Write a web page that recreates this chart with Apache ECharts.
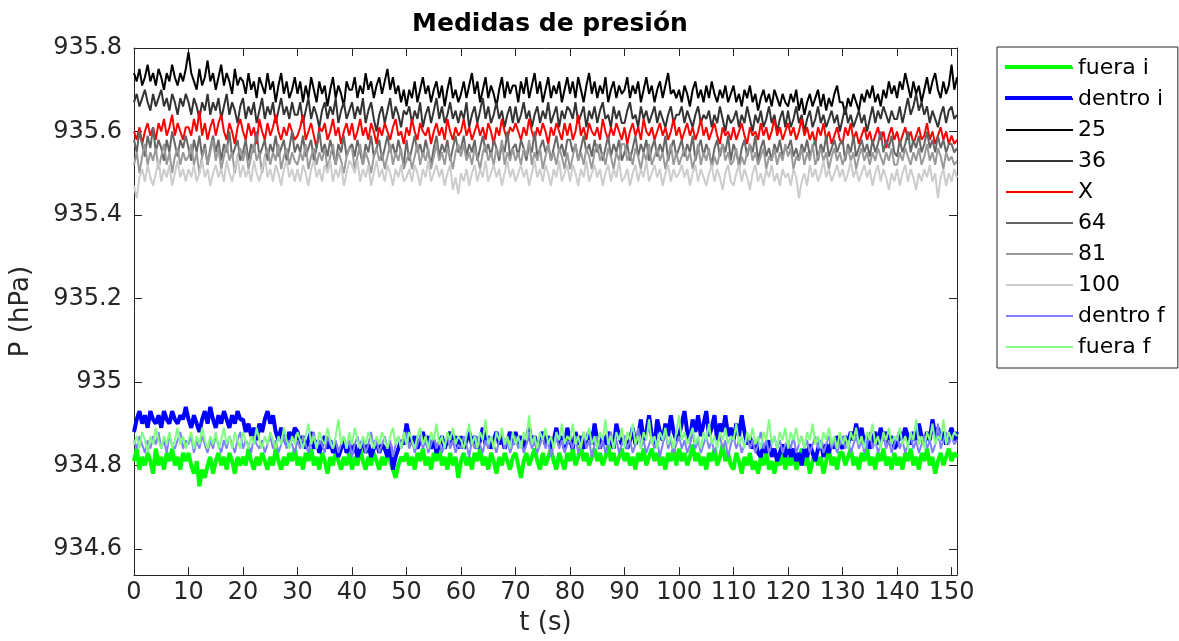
<!DOCTYPE html>
<html>
<head>
<meta charset="utf-8">
<script src="https://cdn.jsdelivr.net/npm/echarts@6/dist/echarts.min.js"></script>
<style>
  html, body { margin: 0; padding: 0; background: #fff; }
  #chart { width: 1179px; height: 641px; }
</style>
</head>
<body>
<div id="chart"></div>
<script>
// Pressure readings (hPa), sampled every half second
const dt = 0.5;

const fueraI = [
934.81,934.84,934.79,934.82,934.80,934.83,934.81,934.78,934.84,934.80,934.82,934.79,934.83,934.81,934.84,934.80,934.82,934.79,934.83,934.81,
934.83,934.80,934.78,934.81,934.75,934.79,934.77,934.80,934.82,934.78,934.81,934.83,934.80,934.82,934.79,934.83,934.81,934.78,934.82,934.80,
934.82,934.80,934.84,934.81,934.79,934.82,934.80,934.83,934.81,934.79,934.82,934.80,934.84,934.81,934.79,934.82,934.80,934.83,934.81,934.84,
934.80,934.82,934.79,934.83,934.81,934.84,934.80,934.82,934.79,934.83,934.81,934.78,934.82,934.80,934.83,934.81,934.79,934.82,934.80,934.83,
934.79,934.82,934.80,934.84,934.81,934.79,934.82,934.80,934.83,934.81,934.79,934.82,934.80,934.83,934.81,934.79,934.77,934.80,934.82,934.81,
934.83,934.80,934.82,934.79,934.83,934.81,934.84,934.80,934.82,934.79,934.83,934.81,934.84,934.80,934.82,934.79,934.83,934.80,934.82,934.77,
934.81,934.83,934.80,934.82,934.79,934.83,934.81,934.84,934.80,934.82,934.79,934.83,934.81,934.78,934.82,934.80,934.83,934.81,934.79,934.82,
934.83,934.80,934.77,934.81,934.83,934.80,934.82,934.84,934.81,934.79,934.83,934.80,934.82,934.84,934.81,934.79,934.83,934.81,934.79,934.83,
934.81,934.84,934.80,934.82,934.85,934.81,934.83,934.80,934.82,934.84,934.81,934.83,934.80,934.82,934.85,934.81,934.83,934.80,934.82,934.84,
934.81,934.83,934.80,934.82,934.79,934.83,934.81,934.84,934.80,934.82,934.84,934.81,934.83,934.80,934.82,934.79,934.83,934.81,934.84,934.80,
934.84,934.81,934.83,934.80,934.82,934.85,934.81,934.83,934.80,934.82,934.79,934.83,934.81,934.84,934.80,934.82,934.85,934.81,934.83,934.80,
934.79,934.83,934.81,934.78,934.82,934.80,934.83,934.79,934.81,934.78,934.82,934.80,934.83,934.79,934.81,934.78,934.82,934.80,934.83,934.79,
934.82,934.80,934.83,934.79,934.81,934.84,934.80,934.82,934.78,934.81,934.83,934.80,934.82,934.78,934.81,934.84,934.80,934.82,934.79,934.83,
934.83,934.80,934.82,934.84,934.80,934.82,934.79,934.83,934.81,934.84,934.80,934.82,934.79,934.83,934.81,934.84,934.80,934.82,934.79,934.83,
934.80,934.82,934.79,934.83,934.81,934.84,934.80,934.82,934.79,934.83,934.81,934.84,934.80,934.82,934.78,934.81,934.83,934.80,934.82,934.84,
934.81,934.83,934.82];

const dentroI = [
934.88,934.91,934.93,934.90,934.92,934.89,934.93,934.91,934.90,934.92,934.89,934.93,934.91,934.90,934.93,934.91,934.90,934.92,934.91,934.94,
934.91,934.89,934.92,934.90,934.88,934.91,934.93,934.90,934.94,934.91,934.89,934.92,934.90,934.93,934.91,934.89,934.92,934.90,934.93,934.91,
934.91,934.88,934.90,934.87,934.89,934.86,934.90,934.88,934.91,934.93,934.90,934.92,934.88,934.86,934.89,934.87,934.85,934.88,934.86,934.89,
934.88,934.85,934.87,934.84,934.86,934.88,934.84,934.86,934.83,934.85,934.87,934.84,934.86,934.83,934.85,934.82,934.84,934.86,934.83,934.85,
934.83,934.85,934.82,934.84,934.86,934.83,934.85,934.82,934.84,934.86,934.83,934.85,934.84,934.82,934.85,934.79,934.82,934.84,934.86,934.85,
934.90,934.87,934.85,934.87,934.84,934.86,934.88,934.85,934.87,934.84,934.86,934.83,934.85,934.87,934.84,934.86,934.88,934.85,934.87,934.84,
934.87,934.84,934.86,934.88,934.85,934.87,934.84,934.86,934.89,934.85,934.87,934.84,934.86,934.88,934.85,934.87,934.84,934.86,934.88,934.85,
934.88,934.85,934.87,934.84,934.86,934.89,934.85,934.87,934.84,934.86,934.88,934.85,934.87,934.84,934.86,934.89,934.85,934.87,934.84,934.89,
934.86,934.84,934.88,934.85,934.87,934.84,934.86,934.88,934.85,934.90,934.86,934.84,934.87,934.85,934.88,934.86,934.84,934.90,934.87,934.85,
934.87,934.84,934.86,934.89,934.85,934.87,934.91,934.86,934.88,934.92,934.87,934.85,934.91,934.88,934.86,934.90,934.87,934.92,934.88,934.86,
934.87,934.90,934.93,934.88,934.86,934.91,934.88,934.92,934.87,934.90,934.93,934.87,934.89,934.92,934.86,934.90,934.88,934.92,934.87,934.89,
934.86,934.90,934.87,934.92,934.88,934.85,934.87,934.84,934.86,934.83,934.82,934.85,934.83,934.86,934.82,934.84,934.81,934.83,934.85,934.82,
934.85,934.82,934.84,934.81,934.83,934.80,934.84,934.82,934.85,934.83,934.81,934.84,934.86,934.82,934.85,934.83,934.86,934.84,934.87,934.85,
934.84,934.87,934.85,934.88,934.86,934.90,934.86,934.89,934.85,934.87,934.84,934.86,934.88,934.85,934.89,934.86,934.88,934.85,934.87,934.84,
934.85,934.88,934.86,934.89,934.87,934.85,934.88,934.86,934.90,934.87,934.85,934.88,934.86,934.91,934.87,934.89,934.86,934.88,934.85,934.87,
934.89,934.86,934.88];

const p25 = [
935.74,935.72,935.75,935.71,935.73,935.76,935.72,935.74,935.71,935.75,935.73,935.70,935.74,935.72,935.76,935.73,935.71,935.74,935.72,935.75,
935.79,935.74,935.72,935.70,935.75,935.71,935.73,935.77,935.72,935.74,935.70,935.73,935.76,935.71,935.74,935.72,935.69,935.75,935.71,935.73,
935.72,935.69,935.74,935.70,935.72,935.68,935.73,935.71,935.69,935.74,935.70,935.72,935.67,935.71,935.74,935.69,935.72,935.68,935.70,935.73,
935.69,935.72,935.67,935.71,935.68,935.73,935.70,935.67,935.72,935.69,935.71,935.66,935.70,935.73,935.68,935.71,935.69,935.66,935.72,935.70,
935.70,935.73,935.68,935.71,935.69,935.74,935.70,935.72,935.68,935.71,935.73,935.69,935.72,935.75,935.70,935.73,935.69,935.71,935.67,935.70,
935.66,935.70,935.68,935.72,935.67,935.70,935.73,935.69,935.71,935.67,935.70,935.72,935.68,935.71,935.66,935.70,935.73,935.68,935.70,935.67,
935.69,935.72,935.68,935.71,935.74,935.69,935.72,935.67,935.70,935.73,935.68,935.71,935.69,935.66,935.70,935.73,935.68,935.72,935.69,935.71,
935.71,935.67,935.72,935.69,935.73,935.68,935.71,935.74,935.69,935.72,935.67,935.70,935.73,935.68,935.71,935.69,935.72,935.67,935.70,935.73,
935.69,935.72,935.68,935.73,935.70,935.67,935.71,935.74,935.69,935.72,935.68,935.71,935.69,935.73,935.67,935.70,935.72,935.68,935.71,935.69,
935.70,935.73,935.68,935.71,935.69,935.72,935.67,935.70,935.73,935.69,935.71,935.67,935.70,935.72,935.68,935.71,935.74,935.69,935.70,935.68,
935.70,935.67,935.71,935.69,935.66,935.70,935.72,935.68,935.70,935.67,935.71,935.68,935.72,935.69,935.67,935.70,935.68,935.71,935.67,935.69,
935.71,935.67,935.69,935.66,935.70,935.68,935.71,935.67,935.69,935.65,935.68,935.70,935.67,935.69,935.66,935.70,935.68,935.66,935.69,935.67,
935.66,935.69,935.67,935.70,935.65,935.68,935.64,935.67,935.69,935.66,935.68,935.70,935.66,935.69,935.65,935.68,935.66,935.69,935.71,935.67,
935.67,935.64,935.68,935.66,935.69,935.67,935.65,935.69,935.67,935.70,935.68,935.71,935.67,935.69,935.66,935.70,935.68,935.72,935.69,935.71,
935.68,935.72,935.70,935.74,935.71,935.68,935.72,935.69,935.71,935.67,935.70,935.73,935.69,935.72,935.74,935.70,935.68,935.72,935.69,935.71,
935.76,935.70,935.73];

const p36 = [
935.67,935.69,935.66,935.68,935.70,935.67,935.65,935.69,935.66,935.68,935.70,935.66,935.68,935.65,935.69,935.67,935.64,935.68,935.66,935.69,
935.67,935.64,935.68,935.66,935.63,935.67,935.65,935.69,935.64,935.67,935.65,935.68,935.63,935.66,935.69,935.64,935.67,935.65,935.62,935.66,
935.68,935.63,935.66,935.64,935.67,935.62,935.65,935.68,935.63,935.66,935.64,935.67,935.62,935.65,935.68,935.64,935.66,935.63,935.67,935.64,
935.64,935.67,935.62,935.65,935.68,935.63,935.66,935.64,935.61,935.65,935.67,935.63,935.66,935.64,935.68,935.62,935.65,935.67,935.63,935.65,
935.67,935.63,935.66,935.64,935.68,935.62,935.65,935.67,935.63,935.60,935.64,935.66,935.62,935.65,935.68,935.63,935.66,935.64,935.61,935.65,
935.64,935.66,935.62,935.65,935.63,935.67,935.61,935.64,935.66,935.62,935.65,935.68,935.63,935.66,935.62,935.64,935.67,935.63,935.65,935.62,
935.65,935.63,935.67,935.61,935.64,935.66,935.62,935.65,935.68,935.63,935.66,935.62,935.64,935.67,935.63,935.65,935.61,935.64,935.66,935.62,
935.66,935.62,935.64,935.67,935.63,935.65,935.61,935.64,935.66,935.62,935.65,935.63,935.67,935.62,935.64,935.66,935.61,935.65,935.63,935.66,
935.65,935.63,935.67,935.62,935.64,935.66,935.61,935.65,935.63,935.66,935.62,935.65,935.67,935.63,935.64,935.61,935.66,935.63,935.65,935.62,
935.62,935.65,935.67,935.63,935.64,935.61,935.66,935.63,935.65,935.62,935.64,935.66,935.62,935.65,935.63,935.61,935.64,935.66,935.62,935.64,
935.64,935.66,935.62,935.65,935.63,935.61,935.64,935.66,935.62,935.64,935.63,935.65,935.61,935.64,935.62,935.66,935.63,935.60,935.64,935.62,
935.63,935.65,935.61,935.64,935.62,935.66,935.63,935.60,935.64,935.62,935.65,935.61,935.63,935.66,935.62,935.64,935.60,935.63,935.65,935.61,
935.65,935.61,935.63,935.66,935.62,935.64,935.60,935.63,935.65,935.61,935.63,935.66,935.62,935.64,935.61,935.63,935.65,935.62,935.64,935.60,
935.63,935.66,935.62,935.64,935.61,935.63,935.65,935.62,935.64,935.60,935.63,935.66,935.62,935.65,935.63,935.66,935.64,935.62,935.65,935.63,
935.63,935.66,935.62,935.65,935.68,935.64,935.66,935.69,935.65,935.67,935.64,935.66,935.62,935.65,935.63,935.61,935.64,935.66,935.62,935.65,
935.66,935.63,935.64];

const pX = [
935.60,935.58,935.61,935.57,935.60,935.62,935.59,935.61,935.58,935.62,935.60,935.63,935.59,935.61,935.64,935.59,935.62,935.60,935.58,935.61,
935.61,935.59,935.63,935.60,935.65,935.59,935.62,935.58,935.61,935.63,935.59,935.62,935.64,935.60,935.58,935.62,935.60,935.57,935.61,935.63,
935.60,935.58,935.62,935.59,935.61,935.57,935.63,935.60,935.58,935.62,935.59,935.61,935.64,935.60,935.58,935.61,935.59,935.62,935.60,935.58,
935.59,935.61,935.64,935.58,935.60,935.62,935.59,935.56,935.61,935.60,935.62,935.58,935.60,935.63,935.59,935.61,935.57,935.60,935.62,935.59,
935.62,935.58,935.60,935.63,935.59,935.61,935.58,935.62,935.60,935.57,935.61,935.59,935.62,935.60,935.58,935.61,935.63,935.59,935.60,935.57,
935.61,935.59,935.63,935.60,935.58,935.62,935.60,935.59,935.61,935.57,935.60,935.62,935.59,935.61,935.58,935.63,935.60,935.58,935.61,935.59,
935.60,935.63,935.59,935.61,935.58,935.60,935.62,935.59,935.61,935.58,935.62,935.60,935.57,935.61,935.59,935.63,935.60,935.58,935.61,935.60,
935.62,935.60,935.58,935.61,935.59,935.63,935.60,935.58,935.61,935.59,935.62,935.60,935.57,935.61,935.59,935.62,935.60,935.58,935.62,935.59,
935.62,935.58,935.60,935.64,935.59,935.61,935.58,935.62,935.60,935.59,935.61,935.58,935.63,935.60,935.58,935.61,935.59,935.62,935.60,935.58,
935.61,935.57,935.60,935.62,935.59,935.61,935.58,935.63,935.60,935.59,935.61,935.58,935.60,935.62,935.59,935.61,935.58,935.60,935.63,935.59,
935.61,935.58,935.60,935.62,935.59,935.61,935.58,935.60,935.63,935.59,935.61,935.58,935.60,935.62,935.59,935.57,935.61,935.59,935.60,935.58,
935.61,935.58,935.60,935.62,935.59,935.57,935.61,935.59,935.60,935.58,935.62,935.59,935.61,935.58,935.60,935.63,935.59,935.61,935.58,935.60,
935.62,935.59,935.61,935.58,935.60,935.63,935.59,935.61,935.58,935.60,935.57,935.61,935.59,935.62,935.58,935.60,935.57,935.59,935.61,935.58,
935.57,935.61,935.59,935.62,935.58,935.60,935.57,935.59,935.61,935.58,935.60,935.57,935.59,935.61,935.58,935.60,935.56,935.59,935.61,935.58,
935.60,935.57,935.59,935.61,935.58,935.60,935.57,935.59,935.61,935.58,935.59,935.62,935.58,935.60,935.57,935.59,935.61,935.58,935.60,935.57,
935.59,935.57,935.58];

const p64 = [
935.58,935.55,935.60,935.57,935.54,935.59,935.56,935.61,935.55,935.58,935.56,935.53,935.58,935.55,935.60,935.57,935.54,935.58,935.56,935.59,
935.56,935.53,935.58,935.55,935.59,935.54,935.57,935.52,935.56,935.59,935.55,935.58,935.53,935.57,935.55,935.60,935.54,935.56,935.58,935.53,
935.55,935.58,935.53,935.57,935.55,935.60,935.54,935.56,935.58,935.53,935.57,935.55,935.59,935.54,935.56,935.58,935.53,935.56,935.60,935.55,
935.57,935.55,935.59,935.54,935.56,935.58,935.53,935.56,935.60,935.55,935.57,935.54,935.58,935.55,935.52,935.57,935.55,935.59,935.54,935.56,
935.57,935.54,935.58,935.55,935.52,935.57,935.55,935.59,935.54,935.56,935.58,935.53,935.56,935.59,935.55,935.57,935.54,935.58,935.55,935.52,
935.58,935.53,935.56,935.59,935.55,935.57,935.54,935.58,935.55,935.52,935.56,935.59,935.54,935.57,935.55,935.58,935.53,935.56,935.59,935.55,
935.56,935.59,935.54,935.57,935.55,935.58,935.53,935.56,935.59,935.55,935.57,935.54,935.58,935.56,935.53,935.57,935.55,935.60,935.54,935.56,
935.57,935.54,935.58,935.56,935.53,935.57,935.55,935.60,935.54,935.56,935.58,935.55,935.57,935.53,935.56,935.59,935.55,935.57,935.54,935.58,
935.58,935.55,935.57,935.53,935.56,935.59,935.55,935.57,935.54,935.58,935.55,935.57,935.53,935.56,935.59,935.54,935.57,935.55,935.58,935.53,
935.55,935.57,935.53,935.56,935.59,935.54,935.57,935.55,935.58,935.53,935.56,935.58,935.54,935.57,935.55,935.59,935.53,935.56,935.58,935.54,
935.56,935.58,935.54,935.57,935.55,935.59,935.53,935.56,935.58,935.54,935.57,935.55,935.52,935.56,935.58,935.54,935.57,935.55,935.59,935.53,
935.57,935.55,935.52,935.56,935.58,935.54,935.57,935.55,935.59,935.53,935.56,935.58,935.54,935.56,935.53,935.57,935.55,935.58,935.54,935.56,
935.56,935.58,935.54,935.56,935.53,935.57,935.55,935.58,935.54,935.56,935.58,935.53,935.57,935.55,935.59,935.54,935.56,935.58,935.55,935.57,
935.58,935.53,935.57,935.55,935.59,935.54,935.56,935.58,935.55,935.57,935.54,935.58,935.55,935.57,935.60,935.55,935.58,935.56,935.59,935.55,
935.54,935.58,935.55,935.57,935.60,935.55,935.58,935.56,935.59,935.55,935.57,935.60,935.56,935.58,935.55,935.59,935.56,935.58,935.55,935.57,
935.57,935.55,935.56];

const p81 = [
935.52,935.55,935.50,935.54,935.57,935.52,935.55,935.53,935.56,935.51,935.54,935.57,935.52,935.55,935.50,935.54,935.56,935.52,935.55,935.53,
935.54,935.57,935.52,935.55,935.50,935.54,935.56,935.52,935.55,935.58,935.53,935.56,935.51,935.54,935.57,935.53,935.55,935.50,935.54,935.56,
935.53,935.56,935.51,935.54,935.57,935.53,935.55,935.50,935.54,935.56,935.52,935.55,935.53,935.57,935.51,935.54,935.56,935.52,935.55,935.53,
935.52,935.55,935.53,935.57,935.51,935.54,935.56,935.52,935.55,935.53,935.56,935.51,935.54,935.57,935.52,935.55,935.53,935.50,935.54,935.56,
935.56,935.51,935.54,935.57,935.52,935.55,935.53,935.50,935.54,935.56,935.53,935.55,935.51,935.54,935.57,935.52,935.55,935.53,935.56,935.51,
935.53,935.55,935.51,935.54,935.57,935.52,935.55,935.53,935.56,935.51,935.54,935.57,935.53,935.55,935.52,935.56,935.54,935.51,935.55,935.57,
935.54,935.57,935.53,935.55,935.52,935.56,935.54,935.51,935.55,935.57,935.53,935.55,935.52,935.56,935.54,935.58,935.52,935.55,935.53,935.56,
935.53,935.55,935.52,935.56,935.54,935.58,935.52,935.55,935.53,935.56,935.51,935.54,935.57,935.53,935.55,935.52,935.56,935.54,935.51,935.55,
935.51,935.54,935.57,935.53,935.55,935.52,935.56,935.54,935.51,935.55,935.57,935.53,935.55,935.52,935.56,935.54,935.51,935.55,935.53,935.57,
935.57,935.53,935.55,935.52,935.56,935.54,935.51,935.55,935.53,935.57,935.52,935.54,935.56,935.53,935.55,935.51,935.54,935.57,935.52,935.55,
935.52,935.54,935.56,935.53,935.55,935.51,935.54,935.57,935.52,935.55,935.53,935.56,935.51,935.54,935.52,935.55,935.57,935.53,935.55,935.52,
935.53,935.56,935.51,935.54,935.52,935.55,935.57,935.53,935.55,935.52,935.54,935.56,935.51,935.54,935.53,935.56,935.52,935.55,935.53,935.57,
935.54,935.56,935.51,935.54,935.53,935.56,935.52,935.55,935.53,935.57,935.52,935.54,935.56,935.53,935.55,935.51,935.54,935.56,935.53,935.55,
935.52,935.54,935.56,935.53,935.55,935.51,935.54,935.56,935.53,935.55,935.52,935.55,935.53,935.56,935.54,935.52,935.55,935.53,935.56,935.52,
935.52,935.55,935.53,935.56,935.54,935.52,935.55,935.53,935.56,935.52,935.54,935.57,935.53,935.55,935.52,935.56,935.54,935.51,935.55,935.53,
935.54,935.52,935.53];

const p100 = [
935.47,935.44,935.49,935.51,935.48,935.52,935.49,935.47,935.50,935.53,935.48,935.51,935.49,935.52,935.47,935.50,935.53,935.49,935.51,935.48,
935.51,935.49,935.52,935.48,935.50,935.53,935.49,935.51,935.47,935.50,935.52,935.49,935.51,935.48,935.53,935.50,935.48,935.51,935.54,935.49,
935.52,935.49,935.51,935.48,935.53,935.50,935.48,935.51,935.54,935.49,935.51,935.48,935.52,935.50,935.47,935.51,935.53,935.49,935.51,935.48,
935.51,935.48,935.52,935.50,935.47,935.51,935.53,935.49,935.51,935.48,935.52,935.50,935.53,935.48,935.51,935.49,935.52,935.47,935.50,935.53,
935.52,935.50,935.53,935.48,935.51,935.49,935.52,935.47,935.50,935.53,935.49,935.51,935.48,935.52,935.50,935.47,935.51,935.49,935.52,935.48,
935.49,935.51,935.48,935.52,935.50,935.47,935.51,935.49,935.53,935.48,935.50,935.52,935.49,935.51,935.47,935.50,935.52,935.46,935.49,935.45,
935.50,935.48,935.51,935.47,935.50,935.52,935.48,935.51,935.49,935.53,935.48,935.50,935.52,935.49,935.51,935.47,935.50,935.53,935.49,935.51,
935.48,935.50,935.52,935.49,935.51,935.47,935.50,935.53,935.49,935.51,935.48,935.52,935.50,935.47,935.51,935.49,935.53,935.48,935.50,935.52,
935.48,935.52,935.50,935.47,935.51,935.49,935.53,935.48,935.50,935.52,935.49,935.51,935.47,935.50,935.52,935.48,935.51,935.49,935.53,935.48,
935.49,935.51,935.47,935.50,935.52,935.48,935.51,935.49,935.53,935.48,935.50,935.52,935.49,935.51,935.47,935.50,935.52,935.48,935.51,935.49,
935.50,935.52,935.49,935.51,935.47,935.50,935.52,935.48,935.51,935.49,935.47,935.50,935.52,935.48,935.51,935.49,935.46,935.50,935.52,935.48,
935.47,935.50,935.52,935.48,935.51,935.49,935.46,935.50,935.52,935.48,935.50,935.47,935.51,935.49,935.52,935.48,935.50,935.47,935.51,935.49,
935.50,935.47,935.51,935.49,935.44,935.48,935.50,935.47,935.52,935.49,935.51,935.48,935.50,935.53,935.49,935.51,935.48,935.50,935.52,935.49,
935.51,935.48,935.50,935.53,935.49,935.51,935.48,935.50,935.52,935.49,935.51,935.47,935.50,935.52,935.48,935.51,935.49,935.46,935.50,935.48,
935.51,935.47,935.50,935.52,935.48,935.51,935.49,935.46,935.50,935.48,935.51,935.49,935.52,935.48,935.50,935.44,935.49,935.51,935.47,935.50,
935.48,935.51,935.49];

const dentroF = [
934.86,934.84,934.87,934.85,934.83,934.86,934.84,934.87,934.85,934.88,934.84,934.86,934.83,934.87,934.85,934.84,934.86,934.88,934.84,934.86,
934.85,934.87,934.83,934.86,934.84,934.87,934.85,934.83,934.86,934.84,934.87,934.85,934.83,934.86,934.84,934.87,934.85,934.83,934.86,934.88,
934.84,934.86,934.85,934.83,934.87,934.85,934.84,934.86,934.83,934.85,934.87,934.84,934.86,934.83,934.85,934.87,934.84,934.86,934.85,934.83,
934.86,934.84,934.87,934.85,934.83,934.86,934.88,934.84,934.86,934.85,934.83,934.87,934.85,934.84,934.86,934.83,934.85,934.87,934.84,934.86,
934.82,934.85,934.87,934.84,934.86,934.83,934.85,934.88,934.84,934.86,934.83,934.85,934.87,934.84,934.86,934.82,934.85,934.87,934.84,934.86,
934.88,934.84,934.86,934.83,934.85,934.87,934.84,934.86,934.83,934.85,934.87,934.84,934.86,934.83,934.85,934.87,934.84,934.86,934.83,934.85,
934.84,934.87,934.85,934.82,934.86,934.84,934.87,934.85,934.83,934.86,934.84,934.87,934.85,934.83,934.86,934.88,934.84,934.86,934.83,934.85,
934.87,934.84,934.86,934.83,934.85,934.88,934.84,934.86,934.83,934.85,934.87,934.84,934.86,934.82,934.85,934.87,934.84,934.86,934.83,934.85,
934.86,934.84,934.87,934.83,934.85,934.88,934.84,934.86,934.82,934.85,934.87,934.84,934.86,934.83,934.85,934.88,934.84,934.86,934.83,934.85,
934.87,934.84,934.86,934.83,934.85,934.89,934.84,934.86,934.83,934.85,934.87,934.84,934.86,934.82,934.85,934.88,934.84,934.86,934.83,934.85,
934.87,934.84,934.86,934.83,934.85,934.88,934.84,934.86,934.83,934.85,934.87,934.84,934.86,934.83,934.85,934.87,934.84,934.86,934.82,934.85,
934.87,934.84,934.86,934.83,934.85,934.87,934.84,934.86,934.83,934.85,934.88,934.84,934.86,934.83,934.85,934.87,934.84,934.86,934.83,934.85,
934.86,934.84,934.87,934.83,934.85,934.87,934.84,934.86,934.83,934.85,934.87,934.84,934.86,934.83,934.85,934.87,934.84,934.86,934.83,934.85,
934.87,934.84,934.86,934.83,934.85,934.87,934.84,934.86,934.83,934.85,934.88,934.84,934.86,934.83,934.85,934.87,934.84,934.86,934.83,934.85,
934.87,934.84,934.86,934.83,934.85,934.87,934.84,934.86,934.83,934.85,934.87,934.84,934.86,934.83,934.85,934.90,934.84,934.86,934.88,934.85,
934.87,934.85,934.86];

const fueraF = [
934.85,934.87,934.84,934.88,934.86,934.83,934.87,934.85,934.89,934.86,934.84,934.87,934.85,934.88,934.84,934.86,934.89,934.85,934.87,934.84,
934.86,934.88,934.84,934.87,934.85,934.89,934.86,934.84,934.87,934.85,934.88,934.84,934.86,934.89,934.85,934.87,934.84,934.88,934.86,934.84,
934.88,934.86,934.84,934.87,934.85,934.89,934.86,934.84,934.87,934.85,934.88,934.86,934.84,934.87,934.85,934.89,934.86,934.84,934.87,934.85,
934.88,934.86,934.84,934.87,934.90,934.85,934.87,934.84,934.88,934.86,934.85,934.89,934.86,934.84,934.87,934.91,934.85,934.87,934.84,934.88,
934.85,934.89,934.86,934.84,934.87,934.85,934.88,934.86,934.84,934.87,934.85,934.88,934.86,934.84,934.87,934.89,934.85,934.87,934.84,934.88,
934.85,934.88,934.86,934.84,934.87,934.89,934.85,934.87,934.84,934.88,934.86,934.90,934.85,934.87,934.84,934.88,934.86,934.89,934.85,934.87,
934.86,934.84,934.87,934.90,934.85,934.87,934.84,934.88,934.86,934.91,934.85,934.87,934.84,934.88,934.86,934.89,934.85,934.87,934.84,934.88,
934.85,934.87,934.84,934.88,934.86,934.92,934.85,934.87,934.84,934.88,934.86,934.89,934.85,934.87,934.84,934.88,934.86,934.90,934.85,934.87,
934.86,934.90,934.85,934.87,934.84,934.88,934.86,934.89,934.85,934.87,934.84,934.88,934.86,934.91,934.85,934.87,934.84,934.88,934.86,934.89,
934.84,934.88,934.86,934.90,934.85,934.87,934.84,934.88,934.86,934.91,934.85,934.87,934.84,934.88,934.86,934.89,934.85,934.87,934.84,934.88,
934.92,934.86,934.88,934.85,934.87,934.89,934.85,934.87,934.84,934.88,934.86,934.90,934.85,934.87,934.84,934.88,934.86,934.89,934.85,934.87,
934.86,934.90,934.85,934.87,934.84,934.88,934.86,934.89,934.85,934.87,934.84,934.88,934.86,934.91,934.85,934.87,934.84,934.88,934.86,934.89,
934.84,934.88,934.86,934.89,934.85,934.87,934.84,934.88,934.86,934.90,934.85,934.87,934.84,934.88,934.86,934.89,934.85,934.87,934.84,934.88,
934.85,934.87,934.84,934.88,934.86,934.89,934.85,934.87,934.84,934.88,934.86,934.90,934.85,934.87,934.84,934.88,934.86,934.89,934.85,934.87,
934.86,934.89,934.85,934.87,934.84,934.88,934.86,934.91,934.85,934.87,934.84,934.88,934.86,934.90,934.85,934.87,934.86,934.91,934.85,934.88,
934.86,934.88,934.87];

const yTicks = [934.6, 934.8, 935, 935.2, 935.4, 935.6, 935.8];
const xTicks = [0, 10, 20, 30, 40, 50, 60, 70, 80, 90, 100, 110, 120, 130, 140, 150];

// Series definitions: name, values, colour, line width (drawing order = legend order)
const seriesDefs = [
  { name: 'fuera i',  values: fueraI,  color: '#00ff00', width: 4 },
  { name: 'dentro i', values: dentroI, color: '#0000ff', width: 4 },
  { name: '25',       values: p25,     color: '#000000', width: 2 },
  { name: '36',       values: p36,     color: '#333333', width: 2 },
  { name: 'X',        values: pX,      color: '#ff0000', width: 2 },
  { name: '64',       values: p64,     color: '#666666', width: 2 },
  { name: '81',       values: p81,     color: '#999999', width: 2 },
  { name: '100',      values: p100,    color: '#cccccc', width: 2 },
  { name: 'dentro f', values: dentroF, color: '#8080ff', width: 2 },
  { name: 'fuera f',  values: fueraF,  color: '#80ff80', width: 2 }
];

const FONT = 'DejaVu Sans';
const AXIS_COLOR = '#262626';

// Legend box geometry
const LEG_LEFT = 997, LEG_TOP = 47, LEG_PAD_TOP = 10, LEG_PAD_LEFT = 8;
const KEY_W = 67, ROW_STEP = 31, FIRST_ROW_Y = 67;

const chart = echarts.init(document.getElementById('chart'), null, { renderer: 'canvas' });

function boxAxis(extra) {
  return Object.assign({
    axisLine: { show: true, onZero: false, lineStyle: { color: AXIS_COLOR, width: 1 } },
    splitLine: { show: false }
  }, extra);
}
function ticks(values) {
  return { show: true, inside: true, length: 8, customValues: values, lineStyle: { color: AXIS_COLOR } };
}

// The legend draws every key at the default line width; the thick series
// get their key redrawn on top at full width
const thickKeys = [];
seriesDefs.forEach((d, i) => {
  if (d.width > 2) {
    thickKeys.push({
      type: 'rect', z: 100,
      shape: { x: LEG_LEFT + LEG_PAD_LEFT, y: FIRST_ROW_Y + i * ROW_STEP - d.width / 2, width: KEY_W, height: d.width },
      style: { fill: d.color }
    });
  }
});

chart.setOption({
  animation: false,
  backgroundColor: '#ffffff',
  title: {
    text: 'Medidas de presión',
    left: 545, top: 7, textAlign: 'center',
    textStyle: { fontFamily: FONT, fontSize: 25, fontWeight: 'bold', color: '#000' }
  },
  legend: {
    orient: 'vertical',
    left: LEG_LEFT, top: LEG_TOP,
    padding: [LEG_PAD_TOP, 13, 10, LEG_PAD_LEFT],
    itemWidth: KEY_W, itemHeight: 14, itemGap: 9,
    borderColor: '#262626', borderWidth: 1,
    backgroundColor: '#fff',
    // line-only keys: hide the point marker drawn in the middle of each key
    itemStyle: { opacity: 0 },
    textStyle: { fontFamily: FONT, fontSize: 22, color: '#000' },
    data: seriesDefs.map(d => d.name)
  },
  graphic: thickKeys,
  grid: { left: 134, right: 222, top: 48, bottom: 51, containLabel: false },
  xAxis: [
    boxAxis({
      type: 'value', min: 0, max: 151, position: 'bottom',
      name: 't (s)', nameLocation: 'middle', nameGap: 34,
      nameTextStyle: { fontFamily: FONT, fontSize: 26, color: AXIS_COLOR },
      axisTick: ticks(xTicks),
      axisLabel: { customValues: xTicks, margin: 6, fontFamily: FONT, fontSize: 24, color: AXIS_COLOR }
    }),
    boxAxis({
      type: 'value', min: 0, max: 151, position: 'top',
      axisTick: ticks(xTicks),
      axisLabel: { show: false }
    })
  ],
  yAxis: [
    boxAxis({
      type: 'value', min: 934.537, max: 935.8, position: 'left',
      name: 'P (hPa)', nameLocation: 'middle', nameGap: 100,
      nameTextStyle: { fontFamily: FONT, fontSize: 26, color: AXIS_COLOR },
      axisTick: ticks(yTicks),
      axisLabel: { customValues: yTicks, margin: 12, fontFamily: FONT, fontSize: 24, color: AXIS_COLOR,
                   formatter: v => String(+v.toFixed(1)) }
    }),
    boxAxis({
      type: 'value', min: 934.537, max: 935.8, position: 'right',
      axisTick: ticks(yTicks),
      axisLabel: { show: false }
    })
  ],
  series: seriesDefs.map(d => ({
    name: d.name,
    type: 'line',
    xAxisIndex: 0, yAxisIndex: 0,
    showSymbol: false, symbol: 'none',
    lineStyle: { color: d.color, width: d.width },
    itemStyle: { color: d.color },
    emphasis: { disabled: true },
    data: d.values.map((v, i) => [i * dt, v])
  }))
});
</script>
</body>
</html>
